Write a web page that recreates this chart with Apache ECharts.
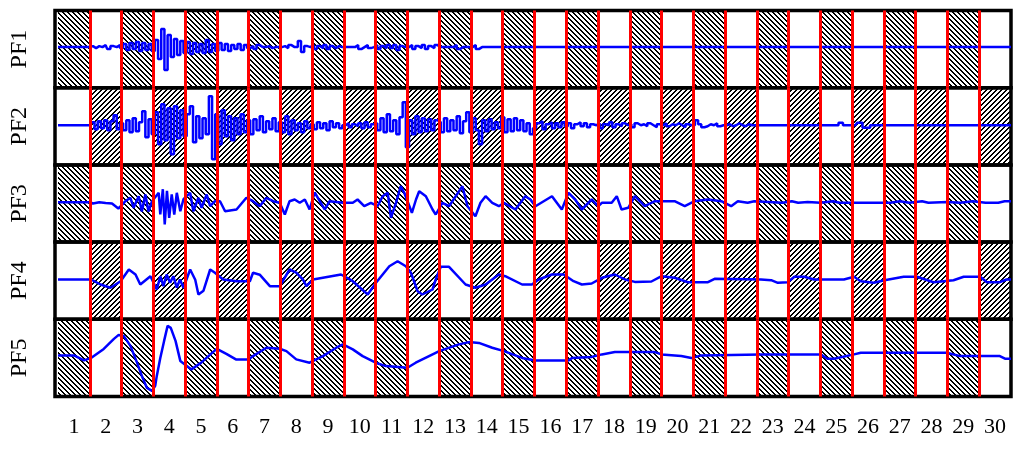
<!DOCTYPE html>
<html>
<head>
<meta charset="utf-8">
<script src="https://cdn.jsdelivr.net/npm/echarts@6/dist/echarts.min.js"></script>
<style>
    html, body { margin: 0; padding: 0; background: #fff; }
    #chart { width: 1024px; height: 451px; }
</style>
</head>
<body>
<div id="chart"></div>
<script>
    var columns = ['1','2','3','4','5','6','7','8','9','10','11','12','13','14','15',
                   '16','17','18','19','20','21','22','23','24','25','26','27','28','29','30'];
    var rowNames = ['PF1', 'PF2', 'PF3', 'PF4', 'PF5'];

    // PF1: flat baseline, samples every 0.1 column from x=1.0 to 13.5
    var pf1Base = 2;
    var pf1Start = 1.0;
    var pf1 = [
        2, 3, 1, 3, 2, 4, 0, 3, 2, 4,
        1, 5, -1, 6, 0, 7, -2, 6, -1, 5,
        -2, 9, -10, 20, -21, 14, -8, 10, -6, 8,
        -4, 7, -5, 6, -3, 5, -4, 9, -3, 5,
        -2, 6, -1, 5, -2, 4, 0, 5, -1, 4,
        1, 3, 0, 4, 2, 2, 3, 1, 2, 2,
        2, 3, 1, 4, 2, 2, 8, -3, 3, 2,
        4, 0, 3, 1, 4, 0, 3, 1, 3, 2,
        2, 2, 2, 2, 4, 0, 2, 4, 1, 2,
        4, 0, 3, 1, 4, 1, 4, -1, 3, 2,
        2, 4, 0, 3, 1, 4, 0, 3, 1, 4,
        2, 2, 2, 2, 2, 4, 0, 2, 2, 2,
        2, 4, 0, 2, 2
    ];

    // PF2: samples every 0.1 column from x=1.0 to 22.0, then a few bumps
    var pf2Base = 1;
    var pf2Start = 1.0;
    var pf2 = [
        1, 4, -3, 5, -2, 6, -4, 5, 11, -3,
        3, -4, 6, -6, 8, -5, 4, 15, -11, 7,
        -8, 14, -18, 22, -14, 18, -28, 20, -12, 16,
        -10, 12, 20, -16, 10, -12, 8, -8, 30, -33,
        12, -18, 16, -10, 10, -14, 8, -8, 12, -6,
        6, -8, 7, -4, 10, -6, 5, -3, 8, -5,
        4, -6, 10, -8, 6, -4, 3, -6, 5, -2,
        2, -3, 4, -2, 3, -4, 5, -1, 3, -2,
        1, 3, -1, 2, 0, 3, -2, 4, -1, 2,
        3, -4, 8, -6, 12, -5, 6, -8, 9, 24,
        -21, 6, -8, 10, -6, 8, -5, 7, -4, 6,
        4, -6, 8, -5, 6, -4, 10, -7, 5, 14,
        -6, 8, -4, -18, 6, -5, 7, -3, 4, -2,
        9, -6, 7, -5, 8, -4, 6, -5, 3, -8,
        -2, 3, 5, -3, 2, 4, -2, 3, -1, 4,
        0, 3, -2, 2, 4, 0, 3, -1, 2, 1,
        3, -2, 2, 1, 4, -1, 2, 0, 3, 1,
        2, -1, 3, 1, 2, 0, 3, 1, -1, 2,
        1, 3, 0, 2, 1, 3, 1, -1, 2, 1,
        1, 6, 2, -1, 0, 2, 1, 3, 0, 1,
        1, 2, 0, 1, 3, 1, 0, 2, 1, 1,
        1
    ];
    var pf2Tail = [[24.5, 1], [24.64, 3.5], [24.78, 1], [25.1, 1], [25.2, 3.5], [25.45, -1.5], [25.68, 1], [30, 1]];

    // PF3..PF5: [column position, offset]
    var pf3 = [
        [0, 1.3], [1.0, 1.3], [1.1, 0], [1.3, 1.3], [1.5, 0.5], [1.7, 0], [1.9, -5], [2.0, -2],
        [2.12, 2.3], [2.28, 5.7], [2.38, -4.3], [2.54, 7.3], [2.64, -8], [2.75, 9], [2.85, -8], [2.96, 2.3],
        [3.17, 10.7], [3.22, -11], [3.3, 14.3], [3.36, -21], [3.43, 12.7], [3.5, -14.3], [3.58, 9], [3.66, -11], [3.74, 10.7], [3.85, -7.7], [3.95, 4.3],
        [4.16, 10.7], [4.26, -7.7], [4.42, 5.7], [4.52, -4.3], [4.68, 9], [4.79, -2.7], [4.94, 2.3],
        [5.1, 2.3], [5.26, -7.7], [5.62, -6], [5.93, 5.7],
        [6.14, 2.3], [6.35, -2.7], [6.56, 5.7], [6.77, 2.3], [6.98, 0.7],
        [7.14, -11], [7.29, 2.3], [7.45, 4], [7.61, 0.7], [7.77, 4], [7.92, -6],
        [8.08, 11], [8.24, 2.3], [8.4, -6], [8.55, 2.3], [8.97, 0.7],
        [9.28, 0.7], [9.43, 4], [9.64, -2.7], [9.85, 0.7], [10.06, -2.7],
        [10.22, 7.3], [10.38, 10.7], [10.48, -14.3], [10.64, 0.7], [10.79, 17.3], [10.9, 10.7],
        [11.14, -9.3], [11.27, 4], [11.37, 12.3], [11.58, 7.3], [11.79, -6], [11.89, -11],
        [12.1, 0.7], [12.31, -2.7], [12.52, 7.3], [12.73, 17.3], [12.89, -2.7],
        [13.14, -12.7], [13.3, 0.7], [13.46, 7.3], [13.67, 0.7], [13.88, -2.7], [14.04, 0.7],
        [14.4, -6], [14.71, 7.3], [14.87, 4], [15.03, -2.7],
        [15.55, 7.3], [15.86, -6], [16.07, 10.7],
        [16.28, 4], [16.49, -6], [16.8, 4], [17.01, -2.7],
        [17.12, 0.7], [17.43, 0.7], [17.59, 7.3], [17.74, -6], [17.95, -4.3],
        [18.16, 7.3], [18.47, -2.7], [18.79, 2.3],
        [19.41, 2.3], [19.73, -2.7], [20.04, 2.3],
        [20.46, 4], [20.88, 2.3],
        [21.19, -2.7], [21.4, 2.3], [21.71, 0.7], [21.92, 2.3],
        [22.8, 0.7], [23.1, 2.3], [23.3, 0.7], [23.6, 1.5], [24.0, 0.7], [24.4, 2.3], [24.6, 0.7],
        [26.2, 0.7], [26.5, 2.3], [26.8, 0.7], [27.2, 2.3], [27.4, 0.7], [28.0, 1.5], [28.4, 0.7],
        [28.8, 2.3], [29.2, 0.7], [29.6, 0.7], [29.8, 2.3], [30, 2.3]
    ];
    var pf4 = [
        [0, 1.2], [1.04, 1.2], [1.34, -3.8], [1.65, -7.1], [1.97, -0.5], [2.23, 11.2], [2.44, 6.2], [2.59, -3.8], [2.91, 4.5],
        [3.11, -8.8], [3.22, 4.5], [3.32, -5.5], [3.42, 6.2], [3.53, -2], [3.63, 4.5], [3.74, -7], [3.84, 1.2], [3.95, -7],
        [4.16, 11.2], [4.32, 1], [4.42, -13.8], [4.58, -10], [4.79, 11.2], [4.94, 8],
        [5.2, 1.2], [5.62, -0.5], [6.04, -0.5],
        [6.14, 7.9], [6.35, 6], [6.67, -5.5], [6.98, -5.5], [7.29, 11.2], [7.5, 8], [7.71, 1.2], [7.82, -5.5], [8.03, 1.2],
        [8.91, 6.2], [9.28, -0.5], [9.75, -13.8], [10.01, -2.1], [10.43, 14.5], [10.69, 19.5], [10.95, 14.5], [11.11, 7.9],
        [11.32, -10.5], [11.47, -13.8], [11.79, -8.8], [11.89, 1.2], [12.05, 13.9], [12.31, 13.9], [12.83, -3.8], [13.14, -7.1],
        [13.46, -3.8], [13.88, 6.2], [14.08, 4.5],
        [14.61, -3.8], [14.92, -3.8], [15.13, 1.2], [15.55, 6.2], [15.92, 6.2], [16.23, -0.5], [16.49, -3.8], [16.8, -2.8],
        [17.12, 2.9], [17.53, 6.2], [17.85, 1.2], [18.16, -1.2], [18.68, -0.8], [19.0, 4.5], [19.41, 2.9], [19.83, -1.5],
        [20.46, -1.5], [20.67, 1.9], [22.13, 1.2],
        [22.45, 0.5], [22.66, -2.1], [22.97, -1.5], [23.18, 3.9], [23.49, 3.9], [23.8, 1.2], [24.74, 1.2], [25.06, 3.9],
        [25.27, -0.5], [25.68, -2.1], [26.02, 0.5], [26.62, 3.9], [27.04, 3.9], [27.56, -1.5], [28.19, 0.5], [28.51, 3.9],
        [29.03, 3.9], [29.24, -1.5], [29.65, -1.5], [29.86, 1.2], [30, 1.2]
    ];
    var pf5 = [
        [0, 2.5], [0.5, 2.5], [0.82, -2.5], [1.04, 0], [1.44, 9], [1.76, 19], [1.91, 23], [2.07, 22], [2.28, 12],
        [2.49, -5], [2.64, -18], [2.8, -30], [2.96, -33], [3.06, -28], [3.11, -18], [3.22, 0], [3.34, 17], [3.45, 32],
        [3.55, 30], [3.7, 17], [3.85, -3], [4.2, -11.5], [4.5, -5], [4.85, 5], [5.0, 9], [5.3, 4], [5.6, -1.5], [6.0, -1.5],
        [6.14, 1.8], [6.56, 10.2], [6.98, 9.2], [7.19, 6.8], [7.5, -1.5], [7.92, -4.8], [8.34, 1.8], [8.76, 10.2], [8.97, 13.5],
        [9.28, 8.5], [9.59, 1.8], [10.0, -4.8], [10.32, -8.2], [11.0, -9.8], [11.26, -4.8], [11.68, 1.8], [12.0, 6.8],
        [12.62, 13.5], [12.94, 15.8], [13.25, 15], [13.67, 10.2], [14.04, 6.8],
        [14.08, 5.2], [14.61, 0], [15.03, -2.5], [16.07, -2.5], [16.18, 0], [16.8, 1], [17.12, 3.5], [17.53, 5.8],
        [18.79, 5.8], [19.0, 3.5], [19.62, 1.8], [19.94, -0.2], [20.25, 2.5], [22.13, 3.5],
        [24.01, 3.5], [24.22, -0.8], [24.43, -0.8], [25.06, 3.5], [25.27, 5.2], [27.98, 5.2], [28.4, 1.8], [29.65, 1.8],
        [29.81, -0.8], [30, -0.8]
    ];

    // layout
    var L = 55, W = 956, T = 10.5, H = 77.2, YR = 38.6;
    var FONT = '"Liberation Serif", "DejaVu Serif", serif';

    function sampled(start, vals, base, tail) {
        var d = [[0, base]];
        for (var i = 0; i < vals.length; i++) {
            d.push([Math.round((start + i * 0.1) * 100) / 100, vals[i]]);
        }
        return d.concat(tail || [[30, base]]);
    }

    function hatch(dir) {
        var n = 5;
        var c = document.createElement('canvas');
        c.width = n; c.height = n;
        var ctx = c.getContext('2d');
        ctx.fillStyle = '#fff';
        ctx.fillRect(0, 0, n, n);
        ctx.fillStyle = '#000';
        for (var x = 0; x < n; x++) {
            for (var y = 0; y < n; y++) {
                var d = dir > 0 ? (x + y) % n : ((x - y) % n + n) % n;
                if (d < 2) ctx.fillRect(x, y, 1, 1);
            }
        }
        return c;
    }

    var rows = [
        sampled(pf1Start, pf1, pf1Base),
        sampled(pf2Start, pf2, pf2Base, pf2Tail),
        pf3, pf4, pf5
    ];

    var redLines = [];
    for (var k = 1; k < 30; k++) redLines.push({ xAxis: k });

    var grids = [], xAxes = [], yAxes = [], series = [], borders = [];
    rows.forEach(function (data, i) {
        var top = T + H * i;
        grids.push({ left: L, width: W, top: top, height: H, show: false });
        xAxes.push({ type: 'value', gridIndex: i, min: 0, max: 30, show: false });
        yAxes.push({
            type: 'value', gridIndex: i, min: -YR, max: YR,
            name: rowNames[i], nameLocation: 'middle', nameRotate: 90, nameGap: 26,
            nameTextStyle: { fontFamily: FONT, fontSize: 24, color: '#000' },
            axisLine: { show: false }, axisTick: { show: false },
            axisLabel: { show: false }, splitLine: { show: false }
        });
        // PF1, PF3, PF5 hatch odd columns; PF2, PF4 even columns
        var areas = [];
        for (var c = (i % 2 === 0 ? 0 : 1); c < 30; c += 2) {
            areas.push([{ xAxis: c }, { xAxis: c + 1 }]);
        }
        series.push({
            type: 'line', xAxisIndex: i, yAxisIndex: i,
            data: data, symbol: 'none', showSymbol: false,
            step: i < 2 ? 'middle' : false,
            lineStyle: { color: '#0000ff', width: 2.5 },
            markArea: {
                silent: true,
                itemStyle: { color: { image: hatch(i % 2 === 0 ? -1 : 1), repeat: 'repeat' } },
                data: areas
            },
            markLine: {
                silent: true, symbol: ['none', 'none'],
                label: { show: false },
                lineStyle: { color: '#ff0000', width: 3, type: 'solid' },
                data: redLines
            }
        });
        borders.push({
            type: 'rect', z: 3, silent: true,
            shape: { x: L, y: top, width: W, height: H },
            style: { fill: null, stroke: '#000', lineWidth: 3.5 }
        });
    });

    xAxes.push({
        type: 'category', gridIndex: 4, data: columns, position: 'bottom',
        axisLine: { show: false }, axisTick: { show: false }, splitLine: { show: false },
        axisLabel: { interval: 0, margin: 20, fontFamily: FONT, fontSize: 22, color: '#000' }
    });

    var chart = echarts.init(document.getElementById('chart'));
    chart.setOption({
        animation: false,
        backgroundColor: '#fff',
        grid: grids,
        xAxis: xAxes,
        yAxis: yAxes,
        series: series,
        graphic: { elements: borders }
    });
</script>
</body>
</html>
